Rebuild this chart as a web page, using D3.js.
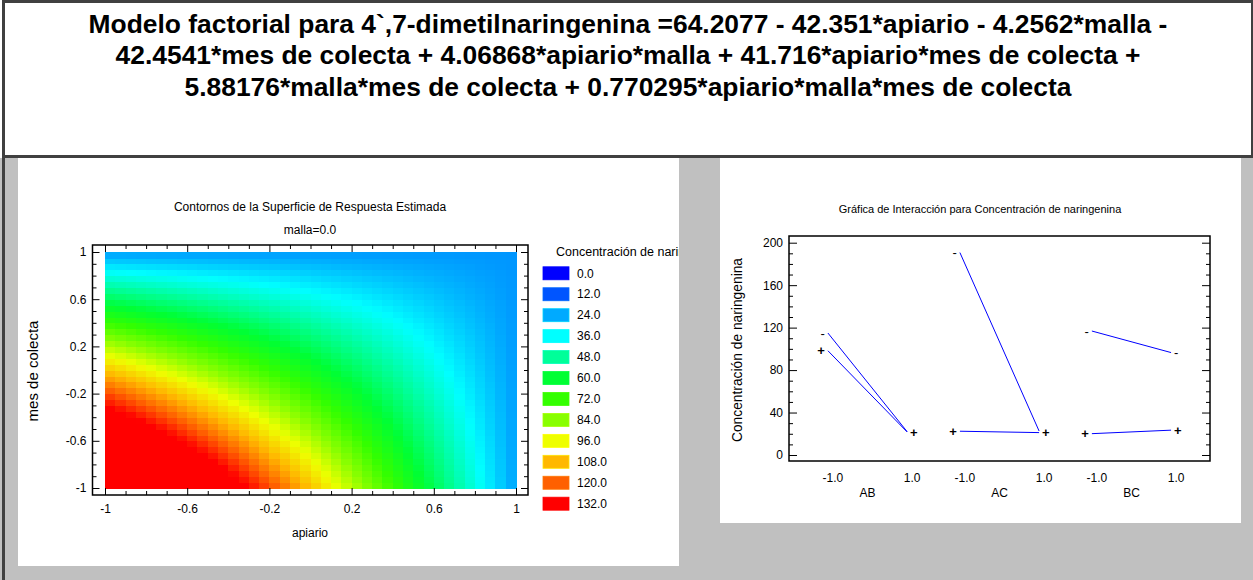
<!DOCTYPE html>
<html>
<head>
<meta charset="utf-8">
<script src="https://cdn.jsdelivr.net/npm/d3@7"></script>
<style>
  body { margin: 0; background: #c0c0c0; }
  svg text { font-family: "Liberation Sans", Arial, sans-serif; }
</style>
</head>
<body>
<div id="chart"></div>
<script>
// Title lines (model equation)
var titleLines = [
  "Modelo factorial para 4`,7-dimetilnaringenina =64.2077 - 42.351*apiario - 4.2562*malla -",
  "42.4541*mes de colecta + 4.06868*apiario*malla + 41.716*apiario*mes de colecta +",
  "5.88176*malla*mes de colecta + 0.770295*apiario*malla*mes de colecta"
];

// model coefficients: const, A, B, C, AB, AC, BC, ABC (A=apiario, B=malla, C=mes de colecta)
var modelCoefs = [64.2077, -42.351, -4.2562, -42.4541, 4.06868, 41.716, 5.88176, 0.770295];
var mallaLevel = 0.0;
var gridSteps = 40;
var contourTicks = [-1, -0.6, -0.2, 0.2, 0.6, 1];
var contourMinor = [-0.9, -0.8, -0.7, -0.5, -0.4, -0.3, -0.1, 0, 0.1, 0.3, 0.4, 0.5, 0.7, 0.8, 0.9];

var legendLevels = [0, 12, 24, 36, 48, 60, 72, 84, 96, 108, 120, 132];
var legendColors = ["#0000ff", "#0055ff", "#00aaff", "#00ffff", "#00ff99", "#00ff33",
                    "#33ff00", "#88ff00", "#eeff00", "#ffb800", "#ff6000", "#ff0000"];

// interaction plot
var pairNames = ["AB", "AC", "BC"];
var levelValues = [-1, 1];
var levelLabels = ["-1.0", "1.0"];
var lowLevelMeans = [[114.9, 22.0], [190.7, 22.6], [116.8, 96.5]];   // second factor at -
var highLevelMeans = [[98.2, 21.7], [22.4, 21.1], [20.1, 23.4]];     // second factor at +
var interTicks = [0, 40, 80, 120, 160, 200];
var interMinor = [10, 20, 30, 50, 60, 70, 90, 100, 110, 130, 140, 150, 170, 180, 190];

var W = 1253, H = 580;

function predict(a, b, c) {
  var k = modelCoefs;
  return k[0] + k[1]*a + k[2]*b + k[3]*c + k[4]*a*b + k[5]*a*c + k[6]*b*c + k[7]*a*b*c;
}

function styleAxis(g, size) {
  g.attr("font-size", size).attr("font-family", null);
  g.select(".domain").remove();
  g.selectAll("line").attr("stroke", "#000");
  g.selectAll("text").attr("fill", "#000");
}

function drawChart() {
  var svg = d3.select("#chart").append("svg")
    .attr("width", W).attr("height", H);

  svg.append("rect").attr("width", W).attr("height", H).attr("fill", "#c0c0c0");

  // title box
  svg.append("rect").attr("x", 0).attr("y", 0).attr("width", W).attr("height", 158).attr("fill", "#fff");
  svg.append("rect").attr("x", 2).attr("y", 0).attr("width", W - 2).attr("height", 3).attr("fill", "#404040");
  svg.append("rect").attr("x", 2).attr("y", 155).attr("width", W - 2).attr("height", 3).attr("fill", "#404040");
  svg.append("rect").attr("x", 2).attr("y", 0).attr("width", 3).attr("height", H).attr("fill", "#404040");
  svg.append("rect").attr("x", W - 2).attr("y", 0).attr("width", 2).attr("height", 158).attr("fill", "#404040");

  svg.append("g").selectAll("text")
    .data(titleLines).enter().append("text")
    .attr("x", 628)
    .attr("y", function(d, i) { return 32.5 + i * 31.5; })
    .attr("text-anchor", "middle")
    .attr("font-size", 26.4)
    .attr("font-weight", "bold")
    .text(function(d) { return d; });

  // ---------- left panel: contour surface ----------
  svg.append("rect").attr("x", 18).attr("y", 158).attr("width", 661).attr("height", 408).attr("fill", "#fff");
  svg.append("clipPath").attr("id", "leftClip")
    .append("rect").attr("x", 18).attr("y", 158).attr("width", 661).attr("height", 408);
  var left = svg.append("g").attr("clip-path", "url(#leftClip)");

  var frameL = { x0: 92.5, x1: 528, y0: 245, y1: 495 };
  var xL = d3.scaleLinear().domain([-1, 1]).range([105, 516]);
  var yL = d3.scaleLinear().domain([-1, 1]).range([488, 252]);
  var color = d3.scaleLinear().domain(legendLevels).range(legendColors).clamp(true);

  var cells = [];
  var step = 2 / gridSteps;
  for (var i = 0; i < gridSteps; i++) {
    for (var j = 0; j < gridSteps; j++) {
      var a0 = -1 + i * step, c0 = -1 + j * step;
      cells.push({ a0: a0, c0: c0, v: predict(a0 + step / 2, mallaLevel, c0 + step / 2) });
    }
  }
  left.append("g").attr("shape-rendering", "crispEdges")
    .selectAll("rect").data(cells).enter().append("rect")
    .attr("x", function(d) { return xL(d.a0); })
    .attr("y", function(d) { return yL(d.c0 + step); })
    .attr("width", function(d) { return xL(d.a0 + step) - xL(d.a0) + 0.6; })
    .attr("height", function(d) { return yL(d.c0) - yL(d.c0 + step) + 0.6; })
    .attr("fill", function(d) { return color(d.v); });

  left.append("rect")
    .attr("x", frameL.x0).attr("y", frameL.y0)
    .attr("width", frameL.x1 - frameL.x0).attr("height", frameL.y1 - frameL.y0)
    .attr("fill", "none").attr("stroke", "#000").attr("stroke-width", 1.5);

  var fmt = function(d) { return String(d); };
  left.append("g").attr("transform", "translate(" + frameL.x0 + ",0)")
    .call(d3.axisLeft(yL).tickValues(contourTicks).tickSize(-7).tickPadding(6).tickFormat(fmt))
    .call(styleAxis, 12);
  left.append("g").attr("transform", "translate(" + frameL.x0 + ",0)")
    .call(d3.axisLeft(yL).tickValues(contourMinor).tickSize(-4).tickFormat(""))
    .call(styleAxis, 12);
  left.append("g").attr("transform", "translate(" + frameL.x1 + ",0)")
    .call(d3.axisRight(yL).tickValues(contourTicks).tickSize(-7).tickFormat(""))
    .call(styleAxis, 12);
  left.append("g").attr("transform", "translate(" + frameL.x1 + ",0)")
    .call(d3.axisRight(yL).tickValues(contourMinor).tickSize(-4).tickFormat(""))
    .call(styleAxis, 12);
  left.append("g").attr("transform", "translate(0," + frameL.y1 + ")")
    .call(d3.axisBottom(xL).tickValues(contourTicks).tickSize(-7).tickPadding(9).tickFormat(fmt))
    .call(styleAxis, 12);
  left.append("g").attr("transform", "translate(0," + frameL.y1 + ")")
    .call(d3.axisBottom(xL).tickValues(contourMinor).tickSize(-4).tickFormat(""))
    .call(styleAxis, 12);
  left.append("g").attr("transform", "translate(0," + frameL.y0 + ")")
    .call(d3.axisTop(xL).tickValues(contourTicks).tickSize(-7).tickFormat(""))
    .call(styleAxis, 12);
  left.append("g").attr("transform", "translate(0," + frameL.y0 + ")")
    .call(d3.axisTop(xL).tickValues(contourMinor).tickSize(-4).tickFormat(""))
    .call(styleAxis, 12);

  left.append("text").attr("x", 310).attr("y", 211).attr("text-anchor", "middle")
    .attr("font-size", 12).text("Contornos de la Superficie de Respuesta Estimada");
  left.append("text").attr("x", 310).attr("y", 234).attr("text-anchor", "middle")
    .attr("font-size", 12).text("malla=0.0");
  left.append("text").attr("x", 310).attr("y", 537).attr("text-anchor", "middle")
    .attr("font-size", 12).text("apiario");
  left.append("text").attr("transform", "translate(33,371) rotate(-90)")
    .attr("dy", "0.35em").attr("text-anchor", "middle")
    .attr("font-size", 15).text("mes de colecta");

  // legend
  left.append("text").attr("x", 556).attr("y", 256).attr("font-size", 12.5)
    .text("Concentración de naringenina");
  var legY = d3.scalePoint().domain(legendLevels).range([273.3, 503.7]);
  var leg = left.append("g");
  leg.selectAll("rect").data(legendLevels).enter().append("rect")
    .attr("x", 543).attr("y", function(d) { return legY(d) - 6.5; })
    .attr("width", 26).attr("height", 13)
    .attr("fill", function(d, i) { return legendColors[i]; })
    .attr("stroke", function(d, i) { return d3.color(legendColors[i]).brighter(0.6); })
    .attr("stroke-width", 0.8);
  leg.selectAll("text").data(legendLevels).enter().append("text")
    .attr("x", 577).attr("y", function(d) { return legY(d); })
    .attr("dy", "0.35em").attr("font-size", 12)
    .text(function(d) { return d.toFixed(1); });

  // ---------- right panel: interaction plot ----------
  svg.append("rect").attr("x", 720).attr("y", 158).attr("width", 521).attr("height", 365).attr("fill", "#fff");
  var right = svg.append("g");
  var frameR = { x0: 789, x1: 1210, y0: 236, y1: 461 };
  var yR = d3.scaleLinear().domain([0, 200]).range([455, 242.7]);
  var xGroup = d3.scaleBand().domain(pairNames).range([frameR.x0, frameR.x1]).paddingOuter(0.095).paddingInner(0);
  var xLevel = d3.scaleLinear().domain([-1, 1]).range([-0.3 * xGroup.bandwidth(), 0.3 * xGroup.bandwidth()]);
  function px(g, lv) { return xGroup(g) + xGroup.bandwidth() / 2 + xLevel(lv); }

  right.append("rect")
    .attr("x", frameR.x0).attr("y", frameR.y0)
    .attr("width", frameR.x1 - frameR.x0).attr("height", frameR.y1 - frameR.y0)
    .attr("fill", "none").attr("stroke", "#000").attr("stroke-width", 1.5);

  right.append("g").attr("transform", "translate(" + frameR.x0 + ",0)")
    .call(d3.axisLeft(yR).tickValues(interTicks).tickSize(-8).tickPadding(6).tickFormat(fmt))
    .call(styleAxis, 12);
  right.append("g").attr("transform", "translate(" + frameR.x0 + ",0)")
    .call(d3.axisLeft(yR).tickValues(interMinor).tickSize(-4).tickFormat(""))
    .call(styleAxis, 12);
  right.append("g").attr("transform", "translate(" + frameR.x1 + ",0)")
    .call(d3.axisRight(yR).tickValues(interTicks).tickSize(-8).tickFormat(""))
    .call(styleAxis, 12);
  right.append("g").attr("transform", "translate(" + frameR.x1 + ",0)")
    .call(d3.axisRight(yR).tickValues(interMinor).tickSize(-4).tickFormat(""))
    .call(styleAxis, 12);

  // lines first, then level markers; a "-" that would sit under a "+" is not drawn
  var line = d3.line();
  var markers = [];
  pairNames.forEach(function(g, gi) {
    var lo = levelValues.map(function(lv, li) { return [px(g, lv), yR(lowLevelMeans[gi][li])]; });
    var hi = levelValues.map(function(lv, li) { return [px(g, lv), yR(highLevelMeans[gi][li])]; });
    [lo, hi].forEach(function(pts) {
      right.append("path").attr("d", line(pts))
        .attr("fill", "none").attr("stroke", "#0000ff").attr("stroke-width", 1);
    });
    [0, 1].forEach(function(k) {
      markers.push({ sym: "+", x: hi[k][0], y: hi[k][1], end: k });
      if (Math.abs(lo[k][1] - hi[k][1]) > 6) {
        markers.push({ sym: "-", x: lo[k][0], y: lo[k][1], end: k });
      }
    });
  });
  right.selectAll(".mk").data(markers).enter().append("text")
    .attr("class", "mk")
    .attr("x", function(d) { return d.end === 0 ? d.x - 3 : d.x + 3; })
    .attr("y", function(d) { return d.y; })
    .attr("dy", "0.35em")
    .attr("text-anchor", function(d) { return d.end === 0 ? "end" : "start"; })
    .attr("font-size", 13)
    .attr("font-weight", function(d) { return d.sym === "+" ? "bold" : "normal"; })
    .text(function(d) { return d.sym; });

  pairNames.forEach(function(g) {
    levelValues.forEach(function(lv, li) {
      right.append("text").attr("x", px(g, lv) + 5).attr("y", 482)
        .attr("text-anchor", "middle").attr("font-size", 12).text(levelLabels[li]);
    });
    right.append("text").attr("x", xGroup(g) + xGroup.bandwidth() / 2).attr("y", 497)
      .attr("text-anchor", "middle").attr("font-size", 12).text(g);
  });

  right.append("text").attr("x", 980).attr("y", 213).attr("text-anchor", "middle")
    .attr("font-size", 11).text("Gráfica de Interacción para Concentración de naringenina");
  right.append("text").attr("transform", "translate(737,350) rotate(-90)")
    .attr("dy", "0.35em").attr("text-anchor", "middle")
    .attr("font-size", 13.8).text("Concentración de naringenina");
}

window.onload = function() {
  drawChart();
};
</script>
</body>
</html>
